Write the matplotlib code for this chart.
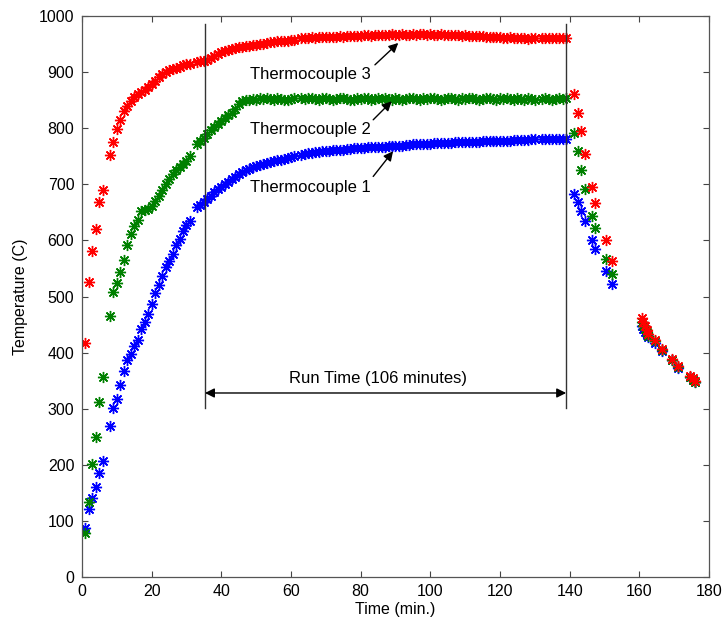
import numpy as np
import matplotlib
matplotlib.use("Agg")
import matplotlib.pyplot as plt

plt.rcParams['font.family'] = ['Liberation Sans', 'DejaVu Sans']

# sample times (min) during heating / run, gaps where no reading was logged
heat_time = [1, 2, 3, 4, 5, 6] + list(range(8, 32)) + list(range(33, 62)) \
    + list(range(63, 131)) + list(range(132, 140))

tc1_heat = [88, 122, 140, 160, 186, 206,
            269, 302, 318, 343, 368, 387, 398, 411, 422, 442,
            454, 469, 487, 506, 520, 536, 552, 564, 576, 591,
            603, 617, 628, 635,
            659, 664, 668, 674, 680, 686, 691, 695, 700, 705,
            709, 713, 719, 722, 725, 727, 730, 732, 734, 736,
            738, 740, 741, 743, 744, 746, 747, 748, 750,
            752, 754, 755, 756, 757, 758, 759, 760, 760, 761,
            761, 762, 762, 763, 763, 764, 764, 765, 765, 766,
            766, 766, 767, 767, 767, 768, 768, 769, 769, 769,
            770, 770, 771, 771, 771, 772, 772, 772, 773, 773,
            773, 774, 774, 774, 775, 775, 775, 775, 776, 776,
            776, 776, 777, 777, 777, 777, 778, 778, 778, 778,
            778, 779,
            779, 779, 779, 779, 780, 780,
            780, 780, 781, 781, 781, 781, 781, 781]

tc2_heat = [78, 134, 202, 249, 312, 356,
            466, 508, 524, 543, 565, 591, 611, 625, 636, 652,
            655, 656, 662, 670, 680, 690, 700, 709, 718, 725,
            730, 736, 742, 751,
            772, 778, 783, 790, 797, 803, 808, 812, 818, 823,
            828, 835, 843, 848, 850, 851, 852, 851, 853, 852,
            854, 852, 851, 853, 852, 850, 851, 852, 853,
            853, 852, 854, 853, 852, 851, 853, 854, 852, 851,
            852, 853, 854, 852, 850, 851, 853, 852, 854, 853,
            851, 852, 853, 852, 854, 852, 851, 853, 852, 850,
            852, 853, 854, 852, 851, 853, 852, 854, 853, 852,
            851, 852, 854, 853, 852, 851, 853, 852, 854, 853,
            852, 851, 852, 853, 854, 852, 851, 853, 852, 853,
            852, 851,
            853, 852, 851, 853, 852, 851,
            852, 853, 852, 851, 852, 853, 852, 853]

tc3_heat = [417, 525, 582, 620, 669, 690,
            752, 775, 798, 815, 831, 840, 849, 856, 861, 865,
            869, 873, 878, 884, 891, 897, 901, 904, 906, 908,
            910, 912, 914, 915,
            918, 919, 920, 922, 925, 929, 932, 936, 938, 940,
            941, 943, 944, 945, 946, 947, 948, 949, 950, 951,
            952, 953, 954, 955, 955, 956, 956, 957, 958,
            960, 961, 961, 962, 961, 962, 962, 963, 962, 963,
            963, 964, 963, 964, 964, 965, 964, 965, 966, 966,
            965, 966, 967, 966, 967, 967, 968, 967, 967, 968,
            967, 967, 968, 967, 968, 968, 967, 968, 967, 967,
            968, 967, 966, 967, 966, 966, 965, 966, 965, 964,
            965, 964, 964, 963, 963, 962, 962, 962, 961, 961,
            962, 961,
            961, 960, 960, 959, 960, 960,
            961, 960, 961, 960, 960, 961, 960, 960]

# cool-down readings after the furnace was opened
cool_time = [141.3, 142.4, 143.4, 144.3, 146.5, 147.4, 150.3, 152.2,
             160.7, 161.2, 161.6, 162.1, 162.6, 164.5, 166.4, 169.3,
             171.2, 174.6, 175.3, 176.0]
tc1_cool = [683, 668, 652, 634, 600, 585, 546, 523,
            448, 442, 437, 432, 428, 418, 403, 386, 373, 356, 351, 347]
tc2_cool = [792, 760, 726, 692, 644, 622, 567, 540,
            455, 448, 442, 436, 430, 420, 405, 387, 374, 357, 352, 348]
tc3_cool = [861, 828, 795, 754, 695, 666, 601, 564,
            462, 455, 448, 440, 433, 422, 407, 388, 376, 358, 354, 350]

run_start = 35.3
run_end = 139.0

fig = plt.figure(figsize=(7.27, 6.26), dpi=100)
ax = fig.add_axes([0.1128, 0.0783, 0.8624, 0.8961])

star = dict(marker=(8, 2, 0), linestyle='none', markersize=8, markeredgewidth=1.0)
series = [(tc1_heat, tc1_cool, '#0000ff'), (tc2_heat, tc2_cool, '#008000'), (tc3_heat, tc3_cool, '#ff0000')]
for heat, cool, c in series:
    ax.plot(heat_time + cool_time, heat + cool, color=c, markeredgecolor=c, **star)

ax.set_xlim(0, 180)
ax.set_ylim(0, 1000)
ax.set_xticks(np.arange(0, 181, 20))
ax.set_yticks(np.arange(0, 1001, 100))
ax.tick_params(direction='in', top=True, right=True, length=4, width=0.8,
               color='#444444', labelsize=11.5)
ax.tick_params(axis='y', pad=5.5)
ax.tick_params(axis='x', pad=5)
for s in ax.spines.values():
    s.set_color('#555555')
    s.set_linewidth(0.9)
ax.set_xlabel('Time (min.)', fontsize=11.5, labelpad=2)
ax.set_ylabel('Temperature (C)', fontsize=11.5, labelpad=8)

# run time markers
ax.plot([run_start, run_start], [301, 985], color='#333333', lw=1)
ax.plot([run_end, run_end], [301, 985], color='#333333', lw=1)
ax.annotate('', xy=(run_start, 328), xytext=(run_end, 328),
            arrowprops=dict(arrowstyle='<|-|>', color='black', lw=1,
                            mutation_scale=14, shrinkA=0, shrinkB=0))
ax.text(85.1, 354, 'Run Time (106 minutes)', ha='center', va='center', fontsize=12)

labels = [('Thermocouple 3', 895, (84.1, 913), (90.8, 952)),
          ('Thermocouple 2', 797, (83.6, 815), (88.9, 848)),
          ('Thermocouple 1', 695, (83.6, 714), (89.3, 759))]
for txt, ty, tail, head in labels:
    ax.text(48.3, ty, txt, ha='left', va='center', fontsize=12)
    ax.annotate('', xy=head, xytext=tail,
                arrowprops=dict(arrowstyle='-|>', color='black', lw=1,
                                mutation_scale=14, shrinkA=0, shrinkB=0))

fig.savefig('out.png', dpi=100)
